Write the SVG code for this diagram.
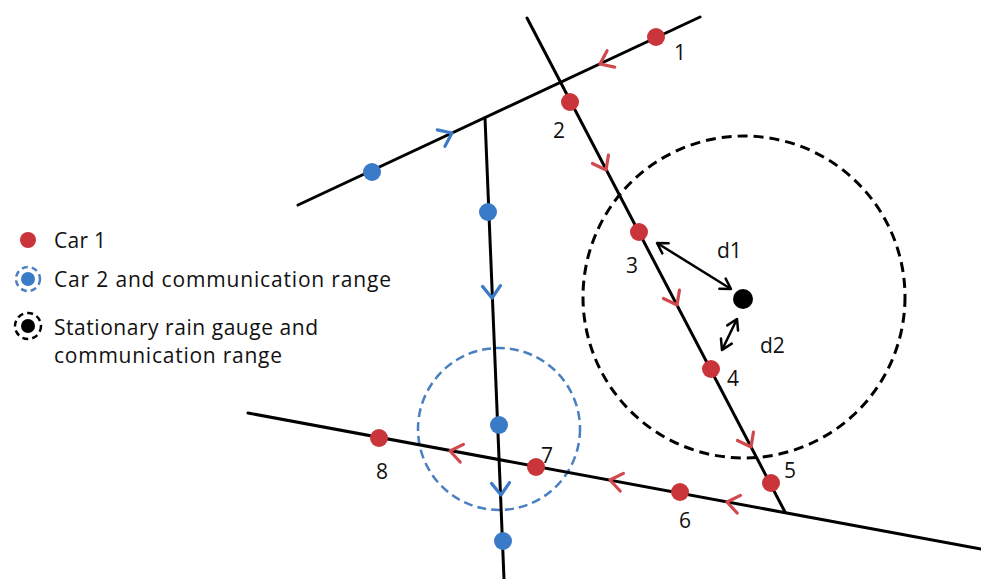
<svg xmlns="http://www.w3.org/2000/svg" width="981" height="579" viewBox="0 0 981 579">
<style>
.road{stroke:#000;stroke-width:3;fill:none;stroke-linecap:round}
.red{fill:#c9353a}
.blue{fill:#3a7bc8}
.chr{fill:none;stroke:#d0494e;stroke-width:3.2;stroke-linecap:round;stroke-linejoin:round}
.chb{fill:none;stroke:#3a7bc8;stroke-width:3.2;stroke-linecap:round;stroke-linejoin:round}
.dist{stroke:#000;stroke-width:2.5;fill:none}
.lbl{font-family:"Open Sans","Liberation Sans",sans-serif;font-size:21px;fill:#111}
.leg{font-family:"Open Sans","Liberation Sans",sans-serif;font-size:21px;fill:#111}
</style>
<defs>
<path id="chev" d="M-12,-9 L0,0 L-12,9"/>
<marker id="ah" viewBox="-12 -8 14 16" refX="0" refY="0" markerWidth="14" markerHeight="16" markerUnits="userSpaceOnUse" orient="auto-start-reverse">
<path d="M-10,-6 L0,0 L-10,6" fill="none" stroke="#000" stroke-width="2.5" stroke-linecap="round" stroke-linejoin="round"/>
</marker>
</defs>
<rect width="981" height="579" fill="#fff"/>

<g id="ranges">
<circle cx="744" cy="297" r="161" fill="none" stroke="#000" stroke-width="3" stroke-dasharray="10 6"/>
<circle cx="499" cy="429" r="81" fill="none" stroke="#4a7fc1" stroke-width="2.5" stroke-dasharray="9 5"/>
</g>

<g id="connectors">
<line class="road" x1="298" y1="205" x2="700" y2="17"/>
<line class="road" x1="527" y1="18" x2="785" y2="512"/>
<line class="road" x1="485" y1="118" x2="504" y2="579"/>
<line class="road" x1="248" y1="413" x2="981" y2="549"/>
<use href="#chev" class="chr" transform="translate(600,64) rotate(154.94)"/>
<use href="#chev" class="chb" transform="translate(452,133) rotate(-25.06)"/>
<use href="#chev" class="chr" transform="translate(606,170) rotate(62.43)"/>
<use href="#chev" class="chr" transform="translate(677,305) rotate(62.43)"/>
<use href="#chev" class="chr" transform="translate(751,447) rotate(62.43)"/>
<use href="#chev" class="chb" transform="translate(492,298) rotate(87.6)"/>
<use href="#chev" class="chb" transform="translate(501,495) rotate(87.6)"/>
<use href="#chev" class="chr" transform="translate(450,451) rotate(190.5)"/>
<use href="#chev" class="chr" transform="translate(610,480) rotate(190.5)"/>
<use href="#chev" class="chr" transform="translate(727,502) rotate(190.5)"/>
<line class="dist" x1="657" y1="243" x2="731" y2="289" marker-start="url(#ah)" marker-end="url(#ah)"/>
<line class="dist" x1="737" y1="319" x2="722" y2="350" marker-start="url(#ah)" marker-end="url(#ah)"/>
</g>

<g id="gauge"><circle cx="743" cy="299" r="10" fill="#000"/></g>

<g id="car1-1"><circle class="red" cx="656" cy="37" r="9"/><text class="lbl" x="674" y="60">1</text></g>
<g id="car1-2"><circle class="red" cx="570" cy="102" r="9"/><text class="lbl" x="553" y="138">2</text></g>
<g id="car1-3"><circle class="red" cx="639" cy="232" r="9"/><text class="lbl" x="626" y="273">3</text></g>
<g id="car1-4"><circle class="red" cx="711" cy="369" r="9"/><text class="lbl" x="727" y="386">4</text></g>
<g id="car1-5"><circle class="red" cx="771" cy="483" r="9"/><text class="lbl" x="784" y="478">5</text></g>
<g id="car1-6"><circle class="red" cx="680" cy="492" r="9"/><text class="lbl" x="679" y="528">6</text></g>
<g id="car1-7"><circle class="red" cx="536" cy="467" r="9"/><text class="lbl" x="541" y="463">7</text></g>
<g id="car1-8"><circle class="red" cx="379" cy="438" r="9"/><text class="lbl" x="376" y="479">8</text></g>

<g id="car2-a"><circle class="blue" cx="372" cy="172" r="9"/></g>
<g id="car2-b"><circle class="blue" cx="488" cy="212" r="9"/></g>
<g id="car2-c"><circle class="blue" cx="499" cy="425" r="9"/></g>
<g id="car2-d"><circle class="blue" cx="503" cy="541" r="9"/></g>

<g id="label-d1"><text class="lbl" x="717" y="258">d1</text></g>
<g id="label-d2"><text class="lbl" x="760" y="353">d2</text></g>

<g id="legend">
<circle class="red" cx="28" cy="240" r="8"/>
<text class="leg" x="54" y="248" textLength="52">Car 1</text>
<circle class="blue" cx="28" cy="279" r="7"/>
<circle cx="28" cy="279" r="12" fill="none" stroke="#4a7fc1" stroke-width="2.5" stroke-dasharray="6 4"/>
<text class="leg" x="54" y="287" textLength="337">Car 2  and communication range</text>
<circle cx="28" cy="326" r="7" fill="#000"/>
<circle cx="28" cy="326" r="13" fill="none" stroke="#000" stroke-width="2.5" stroke-dasharray="6 4"/>
<text class="leg" x="54" y="335" textLength="264">Stationary rain gauge and</text>
<text class="leg" x="54" y="363" textLength="228">communication range</text>
</g>
</svg>
